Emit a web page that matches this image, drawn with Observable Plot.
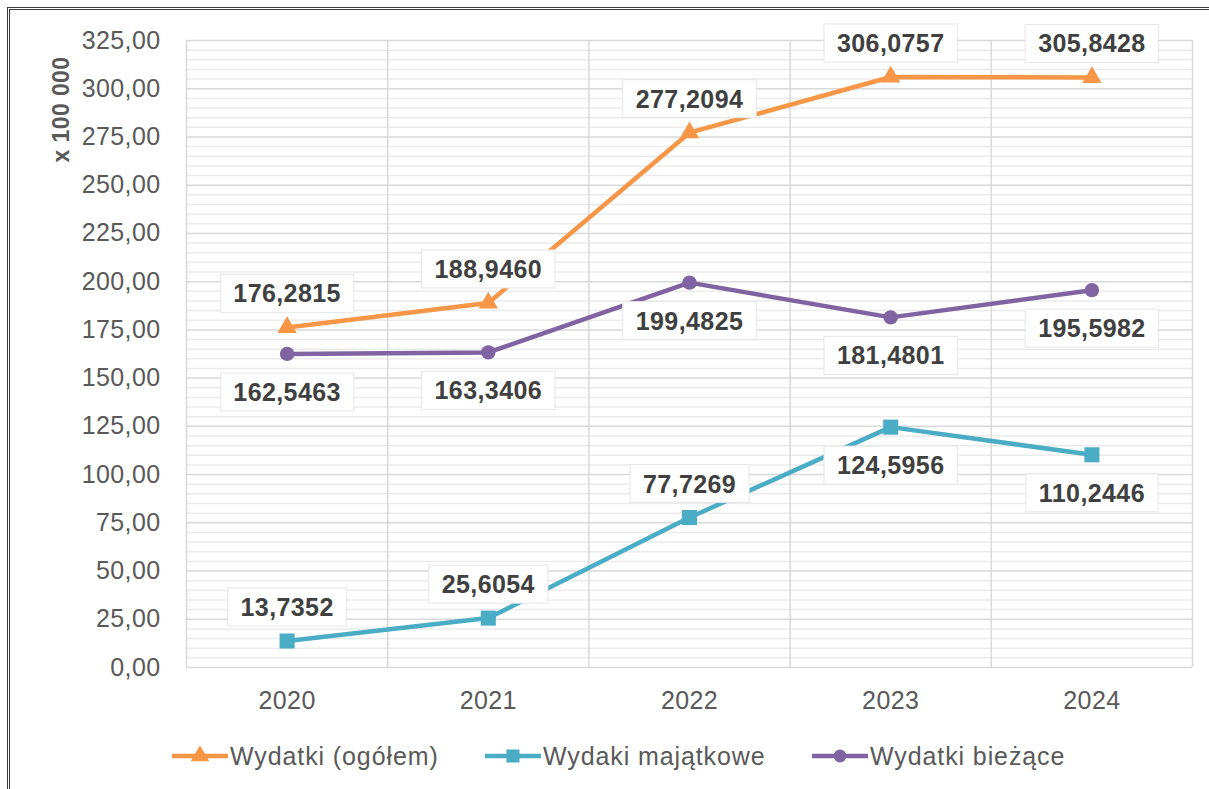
<!DOCTYPE html>
<html><head><meta charset="utf-8">
<script src="https://cdn.jsdelivr.net/npm/d3@7"></script>
<script src="https://cdn.jsdelivr.net/npm/@observablehq/plot@0.6"></script>
<style>
html,body{margin:0;padding:0;background:#fff;overflow:hidden;width:1209px;height:789px;font-family:"Liberation Sans",Arial,sans-serif;}
#frame{position:absolute;left:7px;top:7px;width:1260px;height:860px;border-left:3px double #3a3a3a;border-top:3px double #3a3a3a;box-sizing:border-box;}
#chart{position:absolute;left:0;top:0;}
#legend{position:absolute;left:0;top:742px;width:1209px;height:28px;font-size:25px;color:#595959;line-height:28px;letter-spacing:0.9px;}
#legend .item{position:absolute;top:0;display:flex;align-items:center;height:28px;}
#legend .item span{margin-left:2px;white-space:nowrap;}
</style></head>
<body>
<div id="frame"></div>
<div id="chart"></div>
<div id="legend"></div>
<script>
const years = [2020, 2021, 2022, 2023, 2024];
const seriesNames = ["Wydatki (ogółem)", "Wydaki majątkowe", "Wydatki bieżące"];
const ogolem = [176.2815, 188.9460, 277.2094, 306.0757, 305.8428];
const majatkowe = [13.7352, 25.6054, 77.7269, 124.5956, 110.2446];
const biezace = [162.5463, 163.3406, 199.4825, 181.4801, 195.5982];
const ogolemSide = ["above", "above", "above", "above", "above"];
const majatkoweSide = ["above", "above", "above", "below", "below"];
const biezaceSide = ["below", "below", "below", "below", "below"];
const yTicks = [0, 25, 50, 75, 100, 125, 150, 175, 200, 225, 250, 275, 300, 325];
const seriesColors = ["#F79646", "#4BACC6", "#8064A2"];
const seriesSymbols = ["triangle", "square", "circle"];
const yTitle = "x 100 000";
const legendLeft = [172, 485, 812];

const values = [ogolem, majatkowe, biezace];
const sides = [ogolemSide, majatkoweSide, biezaceSide];
const rows = [];
seriesNames.forEach((name, s) => years.forEach((yr, i) =>
  rows.push({series: name, year: yr, value: values[s][i], side: sides[s][i]})));

const minorTicks = d3.range(0, 325, 5).filter(v => v % 25 !== 0);
const bounds = years.map(y => y - 0.5).concat([years[years.length - 1] + 0.5]);
const fmtLabel = v => v.toFixed(4).replace(".", ",");
const font = '"Liberation Sans", Arial, sans-serif';

const dotR = {"triangle": 7.2, "square": 8.5, "circle": 7.2};

const plot = Plot.plot({
  width: 1209, height: 730,
  marginLeft: 186, marginRight: 17, marginTop: 40, marginBottom: 63,
  style: {fontFamily: font, fontSize: "25px", color: "#595959", background: "transparent", overflow: "visible", letterSpacing: "0.4px"},
  x: {domain: [2019.5, 2024.5], ticks: years, tickFormat: d => String(d), tickSize: 0, tickPadding: 24, label: null},
  y: {domain: [0, 325], ticks: yTicks, tickFormat: d => d.toFixed(2).replace(".", ","), tickSize: 0, tickPadding: 26, label: null},
  color: {domain: seriesNames, range: seriesColors},
  marks: [
    Plot.ruleY(minorTicks, {y: d => d, stroke: "#EBEBEB", strokeWidth: 1.5}),
    Plot.ruleY(yTicks, {y: d => d, stroke: "#D9D9D9", strokeWidth: 1.5}),
    Plot.ruleX(bounds, {x: d => d, stroke: "#D9D9D9", strokeWidth: 1.5}),
    Plot.line(rows, {x: "year", y: "value", z: "series", stroke: "series", strokeWidth: 4.5, curve: "linear"}),
    ...seriesNames.map((name, s) => Plot.dot(rows.filter(d => d.series === name),
      {x: "year", y: "value", fill: seriesColors[s], symbol: seriesSymbols[s], r: dotR[seriesSymbols[s]], stroke: "none"})),
    Plot.text(rows.filter(d => d.side === "above"), {x: "year", y: "value", text: d => fmtLabel(d.value), dy: -33,
      fontSize: 25, fontWeight: "bold", fill: "#404040"}),
    Plot.text(rows.filter(d => d.side === "below"), {x: "year", y: "value", text: d => fmtLabel(d.value), dy: 39,
      fontSize: 25, fontWeight: "bold", fill: "#404040"}),
    Plot.text([yTitle], {frameAnchor: "top-left", dx: -125, dy: 69, rotate: -90, text: d => d,
      textAnchor: "middle", lineAnchor: "middle", fontSize: 23, fontWeight: "bold", fill: "#595959"})
  ]
});
document.getElementById("chart").append(plot);

// white label boxes behind data labels
plot.querySelectorAll("text").forEach(t => {
  if (!/^\d+,\d{4}$/.test(t.textContent.trim())) return;
  const b = t.getBBox();
  const r = document.createElementNS("http://www.w3.org/2000/svg", "rect");
  r.setAttribute("x", b.x - 13);
  r.setAttribute("y", b.y - 5);
  r.setAttribute("width", b.width + 26);
  r.setAttribute("height", b.height + 10);
  const tr = t.getAttribute("transform");
  if (tr) r.setAttribute("transform", tr);
  r.setAttribute("fill", "#ffffff");
  r.setAttribute("stroke", "#E6E6E6");
  r.setAttribute("stroke-width", "1");
  t.parentNode.insertBefore(r, t);
});

// legend
const legend = d3.select("#legend");
const legendSym = [d3.symbolTriangle, d3.symbolSquare, d3.symbolCircle];
const legendSize = [150, 170, 130];
seriesNames.forEach((name, s) => {
  const item = legend.append("div").attr("class", "item").style("left", legendLeft[s] + "px");
  const sw = item.append("svg").attr("width", 56).attr("height", 20);
  sw.append("line").attr("x1", 0).attr("x2", 56).attr("y1", 10).attr("y2", 10)
    .attr("stroke", seriesColors[s]).attr("stroke-width", 4.5);
  sw.append("path").attr("d", d3.symbol(legendSym[s], legendSize[s])())
    .attr("transform", "translate(28,10)").attr("fill", seriesColors[s]);
  item.append("span").text(name);
});
</script>
</body></html>
